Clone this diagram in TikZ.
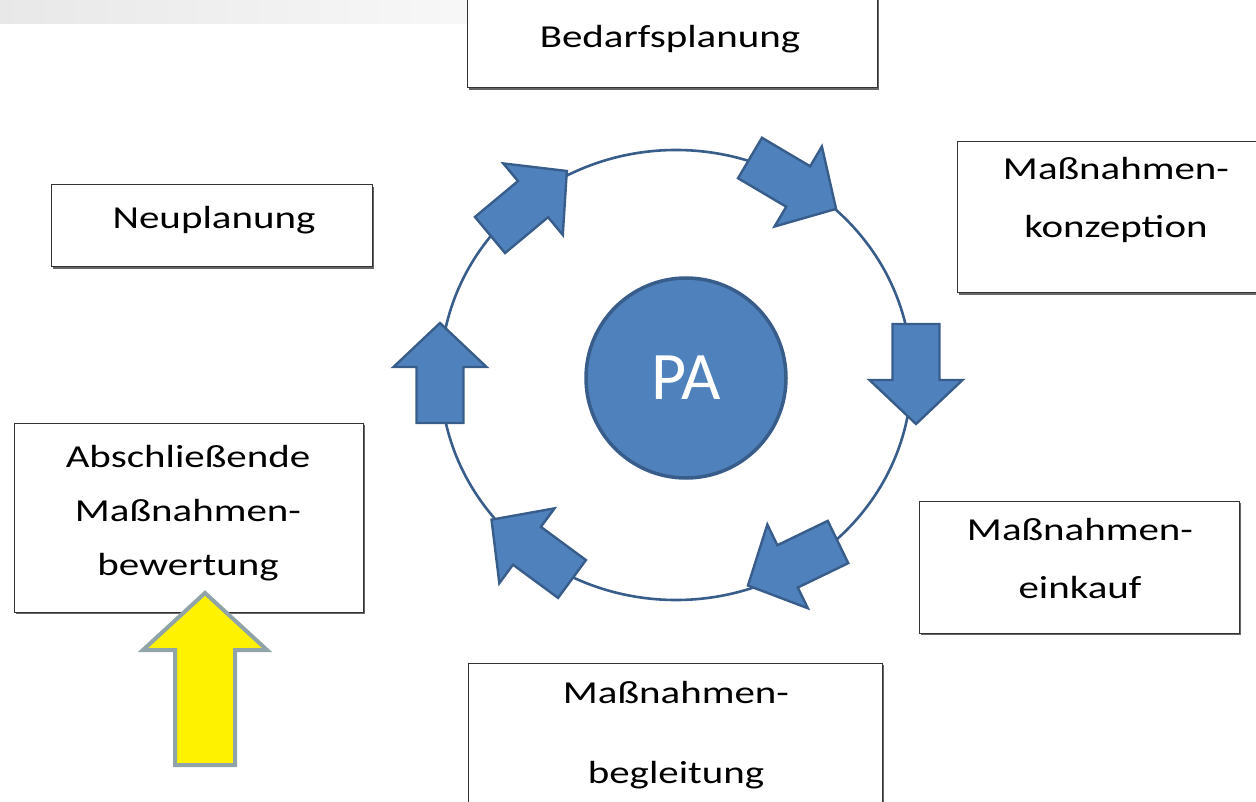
\documentclass[tikz,border=0pt]{standalone}
\usepackage{fontspec}
\newfontfamily\boxfont[FakeStretch=1.28]{Carlito}
\newfontfamily\pafont{Carlito}
\usetikzlibrary{shadows}
\definecolor{pablue}{HTML}{4F81BD}
\definecolor{padark}{HTML}{385D8A}
\definecolor{hintgray}{HTML}{8FA3A8}

\begin{document}
\begin{tikzpicture}[x=1pt,y=-1pt,
	box/.style={draw=black!80,line width=1pt,fill=white,minimum width=#1,inner sep=0pt,
		drop shadow={shadow xshift=1.5pt,shadow yshift=-2pt,fill=black!60,opacity=1}},
	lbl/.style={font=\boxfont\fontsize{32}{56}\selectfont,align=center,anchor=base,inner sep=0pt},
	ring/.style={draw=padark,line width=2.6pt},
	blockarrow/.style={fill=pablue,draw=padark,line width=2.4pt,line join=miter},
	pa/.style={circle,fill=pablue,draw=padark,line width=3.5pt,minimum size=200pt,
		text=white,font=\pafont\fontsize{68}{70}\selectfont}]

\useasboundingbox (0,0) rectangle (1256,802);
\shade[left color=black!9,right color=white] (0,0) rectangle (700,24);

\node[box=410pt,minimum height=93pt]   (bed) at (672,41.5)   {};
 \node[box=313pt,minimum height=151pt] (kon) at (1113.5,217.5) {};
 \node[box=321pt,minimum height=82pt]  (neu) at (211.5,226)  {};
 \node[box=349pt,minimum height=189pt] (abs) at (188.5,517.5) {};
 \node[box=320pt,minimum height=132pt] (ein) at (1079,567)   {};
 \node[box=414pt,minimum height=157pt] (beg) at (675,741.5)  {};

% base = last line
\node[lbl] (bedtxt) at (670,48)   {Bedarfsplanung};
 \node[lbl] (neutxt) at (214,229)  {Neuplanung};
 \node[lbl] (kontxt) at (1116,238) {Maßnahmen-\\[2pt]konzeption};
 \node[lbl] (eintxt) at (1080,598) {Maßnahmen-\\[2pt]einkauf};
 \node[lbl] (begtxt) at (676,783)  {Maßnahmen-\\[24pt]begleitung};
 \node[lbl] (abstxt) at (188,575)  {Abschließende\\[-2pt]Maßnahmen-\\[-2pt]bewertung};

\draw[ring] (676,375) ellipse [x radius=235.5pt,y radius=225pt];

\foreach \x/\y/\r in {490/235/39.8, 750/158/-30.6, 916/324/-90, 838/542/-154.2, 572/579/143.6, 440/423/90}
	\draw[blockarrow,shift={(\x,\y)},rotate=\r]
		(0,-23.5) -- (56,-23.5) -- (56,-46.5) -- (100,0) -- (56,46.5) -- (56,23.5) -- (0,23.5) -- cycle;

\node[pa] (pa) at (686,378) {PA};

\draw[fill=yellow,draw=hintgray,line width=4pt,line join=miter]
	(175,765) -- (175,650) -- (143,650) -- (205,593) -- (267,650) -- (235,650) -- (235,765) -- cycle;
\end{tikzpicture}
\end{document}
